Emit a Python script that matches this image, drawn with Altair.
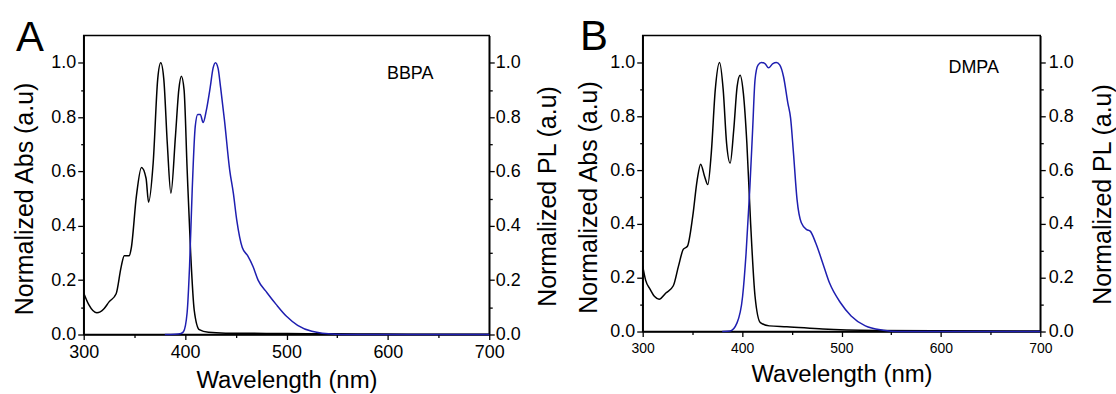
import altair as alt
import pandas as pd

# ---------------- data ----------------
# Panel A (BBPA) absorbance
wl_abs_A = [300, 305, 313, 320, 325, 332, 337, 340, 345, 347, 352, 357, 361.5, 364, 368.5,
            373, 376, 379, 382.5, 386, 390.5, 393.8, 396.3, 399, 402, 405.5, 409, 414, 423,
            440, 480, 520, 570, 620, 700]
abs_A = [0.153, 0.11, 0.08, 0.095, 0.12, 0.15, 0.25, 0.29, 0.29, 0.32, 0.51, 0.615, 0.575, 0.487, 0.63,
         0.94, 1.0, 0.94, 0.70, 0.52, 0.73, 0.90, 0.95, 0.90, 0.61, 0.30, 0.09, 0.018, 0.008,
         0.005, 0.004, 0.003, 0.002, 0.001, 0.001]
# Panel A (BBPA) photoluminescence
wl_pl_A = [380, 390, 396, 398.4, 402, 404.4, 407, 410, 412.5, 415, 417.8, 421, 424.8, 427.6, 430,
           432.5, 435, 438.8, 444, 447.6, 451, 456.4, 461.7, 467, 472, 481, 490, 500, 511, 525,
           548, 560, 700]
pl_A = [0, 0.001, 0.004, 0.01, 0.08, 0.25, 0.53, 0.765, 0.81, 0.81, 0.78, 0.826, 0.91, 0.98, 1.0,
        0.98, 0.91, 0.79, 0.605, 0.52, 0.42, 0.32, 0.29, 0.25, 0.20, 0.153, 0.11, 0.067, 0.034, 0.012,
        0.001, 0, 0]

# Panel B (DMPA) absorbance
wl_abs_B = [300, 303, 307.5, 312, 316.5, 323.6, 330.8, 336, 340.8, 345, 350.4, 354.7, 358.3, 362.3,
            365.5, 369, 373, 377.3, 381, 384.4, 388, 391.6, 395, 398, 401.3, 404.8, 408.4, 413,
            418.4, 427.4, 445, 481, 534.7, 600, 700]
abs_B = [0.243, 0.19, 0.157, 0.13, 0.12, 0.144, 0.17, 0.243, 0.305, 0.317, 0.43, 0.56, 0.622, 0.576,
         0.546, 0.663, 0.898, 1.0, 0.898, 0.70, 0.626, 0.75, 0.91, 0.953, 0.885, 0.70, 0.416, 0.132,
         0.033, 0.021, 0.018, 0.009, 0.004, 0.003, 0.002]
# Panel B (DMPA) photoluminescence
wl_pl_B = [380, 388, 395, 400.5, 404, 407.7, 410.6, 413, 416, 419.5, 423, 426.6, 431, 434.5, 438,
           441.7, 446, 448.8, 451.7, 455.3, 459.6, 465, 468.5, 474, 481, 488, 499, 509.7, 524, 542,
           556, 700]
pl_B = [0, 0.002, 0.033, 0.13, 0.29, 0.527, 0.75, 0.935, 0.99, 1.0, 0.996, 0.98, 0.996, 1.0, 0.99,
        0.947, 0.85, 0.793, 0.663, 0.49, 0.404, 0.379, 0.373, 0.33, 0.256, 0.18, 0.107, 0.058, 0.021, 0.005,
        0, 0]

x_major = [300, 400, 500, 600, 700]
x_minor = [350, 450, 550, 650]
y_major = [0.0, 0.2, 0.4, 0.6, 0.8, 1.0]
y_minor = [0.1, 0.3, 0.5, 0.7, 0.9]

panel_letters = ["A", "B"]
compound_names = ["BBPA", "DMPA"]
name_pos_x = [622, 633]
name_pos_y = [0.96, 0.978]

FONT = "Liberation Sans"
BLUE = "#1e1eb0"


def panel(wl_abs, abs_vals, wl_pl, pl_vals, letter, name, nx, ny, c):
    xs = alt.Scale(domain=[300, 700], nice=False, zero=False)
    ys = alt.Scale(domain=[0, 1.1], nice=False)
    df_abs = pd.DataFrame({"wl": wl_abs, "v": abs_vals})
    df_pl = pd.DataFrame({"wl": wl_pl, "v": pl_vals})

    abs_line = alt.Chart(df_abs).mark_line(color="black", strokeWidth=1.5, interpolate="monotone").encode(
        x=alt.X("wl:Q", scale=xs, axis=alt.Axis(
            orient="bottom", values=x_major, format="d", title="Wavelength (nm)",
            titleFontSize=24, titleY=c["xtitleY"], labelFontSize=c["xlab"], tickSize=5,
            labelPadding=c["xpad"], labelFlush=False, labelOverlap=False)),
        y=alt.Y("v:Q", scale=ys, axis=alt.Axis(
            orient="left", values=y_major, format=".1f", title="Normalized Abs (a.u)",
            titleFontSize=25, titleX=c["ltX"], titleY=c["ltY"], labelFontSize=18, tickSize=6,
            labelPadding=2, labelFlush=False, labelOverlap=False)),
    )
    pl_line = alt.Chart(df_pl).mark_line(color=BLUE, strokeWidth=1.5, interpolate="monotone").encode(
        x=alt.X("wl:Q", scale=xs, axis=None),
        y=alt.Y("v:Q", scale=ys, axis=alt.Axis(
            orient="right", values=y_major, format=".1f", title="Normalized PL (a.u)",
            titleFontSize=25, titleAngle=270, titleBaseline="top", titleX=c["rtX"], titleY=c["rtY"],
            labelFontSize=18, tickSize=5, labelPadding=c["rpad"], labelFlush=False, labelOverlap=False)),
    )
    minor1 = alt.Chart(df_abs).mark_line(opacity=0).encode(
        x=alt.X("wl:Q", scale=xs, axis=alt.Axis(
            orient="bottom", values=x_minor, labels=False, domain=False, tickSize=3, title=None)),
        y=alt.Y("v:Q", scale=ys, axis=alt.Axis(
            orient="left", values=y_minor, labels=False, domain=False, tickSize=3, title=None)),
    )
    minor2 = alt.Chart(df_abs).mark_line(opacity=0).encode(
        x=alt.X("wl:Q", scale=xs, axis=None),
        y=alt.Y("v:Q", scale=ys, axis=alt.Axis(
            orient="right", values=y_minor, labels=False, domain=False, tickSize=3, title=None)),
    )
    name_txt = alt.Chart(pd.DataFrame({"wl": [nx], "v": [ny], "t": [name]})).mark_text(
        font=FONT, fontSize=18, color="black").encode(
        x=alt.X("wl:Q", scale=xs, axis=None),
        y=alt.Y("v:Q", scale=ys, axis=None),
        text="t:N",
    )
    letter_txt = alt.Chart(pd.DataFrame({"t": [letter]})).mark_text(
        font=FONT, fontSize=42, align="left", baseline="alphabetic", color="black").encode(
        x=alt.value(c["letX"]), y=alt.value(c["letY"]), text="t:N",
    )
    return alt.layer(abs_line, pl_line, minor1, minor2, name_txt, letter_txt).resolve_scale(
        x="independent", y="independent").resolve_axis(x="independent", y="independent").properties(
        width=c["w"], height=c["h"])


cfgA = dict(w=407, h=300, xlab=18, xpad=4, xtitleY=34.5, ltX=-46, ltY=163.5, rtX=46, rtY=161,
            rpad=1, letX=-68, letY=15)
cfgB = dict(w=399, h=297, xlab=14, xpad=5, xtitleY=31, ltX=-41, ltY=162, rtX=50, rtY=159,
            rpad=3, letX=-63, letY=14)

pA = panel(wl_abs_A, abs_A, wl_pl_A, pl_A, panel_letters[0], compound_names[0],
           name_pos_x[0], name_pos_y[0], cfgA)
pB = panel(wl_abs_B, abs_B, wl_pl_B, pl_B, panel_letters[1], compound_names[1],
           name_pos_x[1], name_pos_y[1], cfgB)

chart = alt.hconcat(pA, pB, spacing=154, bounds="flush").properties(
    padding={"left": 12, "top": 14, "right": 0, "bottom": 0},
    background="white",
).configure_axis(
    domainColor="black", tickColor="black", labelColor="black", titleColor="black",
    labelFont=FONT, titleFont=FONT, titleFontWeight="normal", domainWidth=1.5, tickWidth=1.3,
    grid=False,
).configure_view(stroke="black", strokeWidth=1.5)

chart.save("out.html", embed_options={"renderer": "svg", "actions": False})
